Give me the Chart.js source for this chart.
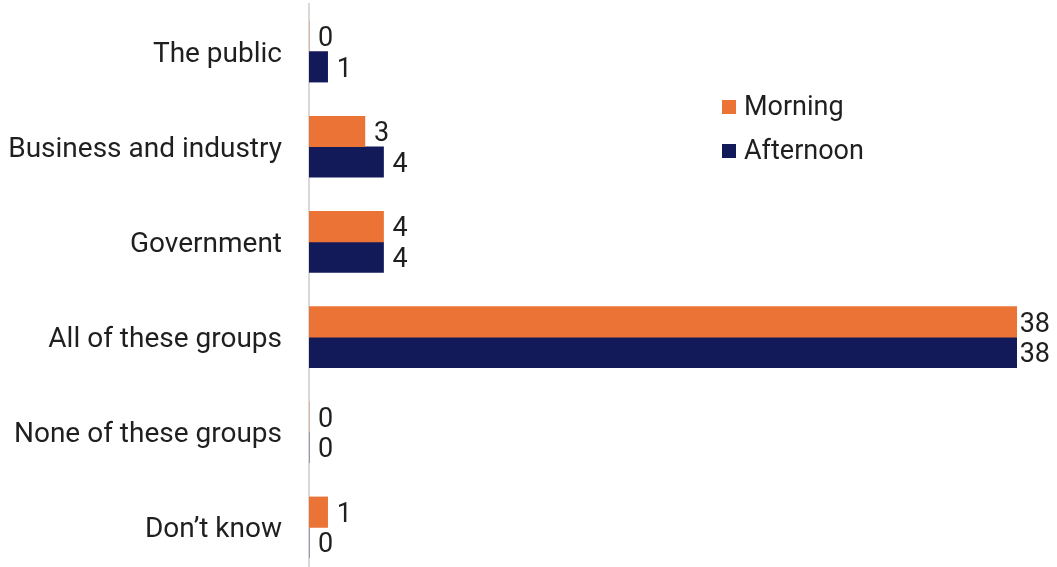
<!DOCTYPE html>
<html>
<head>
<meta charset="utf-8">
<script src="https://cdn.jsdelivr.net/npm/chart.js@4/dist/chart.umd.min.js"></script>
<style>
  html, body { margin: 0; padding: 0; background: #fff; overflow: hidden; }
  #wrap { position: relative; width: 1057px; height: 575px; }
</style>
</head>
<body>
<div id="wrap"><canvas id="c"></canvas></div>
<script>
const categories = ['The public', 'Business and industry', 'Government', 'All of these groups', 'None of these groups', 'Don\u2019t know'];
const morning = [0, 3, 4, 38, 0, 1];
const afternoon = [1, 4, 4, 38, 0, 0];
const seriesNames = ['Morning', 'Afternoon'];
const seriesColors = ['#EA7335', '#131A5A'];

const FONT = 'Roboto, "Liberation Sans", sans-serif';
const TEXT = '#1f1f1f';

// value labels to the right of each bar, kept inside the canvas
const valueLabels = {
  id: 'valueLabels',
  afterDatasetsDraw(chart) {
    const ctx = chart.ctx;
    ctx.save();
    ctx.font = '27px ' + FONT;
    ctx.fillStyle = TEXT;
    ctx.textAlign = 'left';
    ctx.textBaseline = 'middle';
    chart.data.datasets.forEach((ds, di) => {
      chart.getDatasetMeta(di).data.forEach((bar, i) => {
        const txt = String(ds.data[i]);
        const w = ctx.measureText(txt).width;
        const x = Math.min(bar.x + 9, chart.width - 7 - w);
        ctx.fillText(txt, x, bar.y + 3);
      });
    });
    ctx.restore();
  }
};

// legend block inside the plot
const sideLegend = {
  id: 'sideLegend',
  afterDraw(chart) {
    const ctx = chart.ctx;
    ctx.save();
    ctx.font = '27px ' + FONT;
    ctx.textBaseline = 'middle';
    ctx.textAlign = 'left';
    chart.data.datasets.forEach((ds, i) => {
      const y = 107 + i * 44;
      ctx.fillStyle = ds.backgroundColor;
      ctx.fillRect(722, y - 7, 14, 14);
      ctx.fillStyle = TEXT;
      ctx.fillText(ds.label, 744, y + 1);
    });
    ctx.restore();
  }
};

new Chart(document.getElementById('c'), {
  type: 'bar',
  data: {
    labels: categories,
    datasets: [
      { label: seriesNames[0], data: morning, backgroundColor: seriesColors[0], barThickness: 30.5 },
      { label: seriesNames[1], data: afternoon, backgroundColor: seriesColors[1], barThickness: 30.5 }
    ]
  },
  options: {
    indexAxis: 'y',
    responsive: true,
    maintainAspectRatio: false,
    animation: false,
    layout: { padding: { top: 4, right: 40, bottom: 0, left: 0 } },
    plugins: { legend: { display: false }, tooltip: { enabled: false } },
    scales: {
      x: { display: false, min: 0, max: 38 },
      y: {
        grid: { display: false, drawTicks: false },
        border: { display: true, color: '#d9d9d9', width: 2 },
        ticks: { color: TEXT, font: { family: FONT, size: 28 }, padding: 27, labelOffset: 3 },
        afterFit(scale) {
          scale.width = 309;
          scale.paddingTop = 0;
          scale.paddingBottom = 0;
        }
      }
    }
  },
  plugins: [valueLabels, sideLegend]
});
</script>
</body>
</html>
